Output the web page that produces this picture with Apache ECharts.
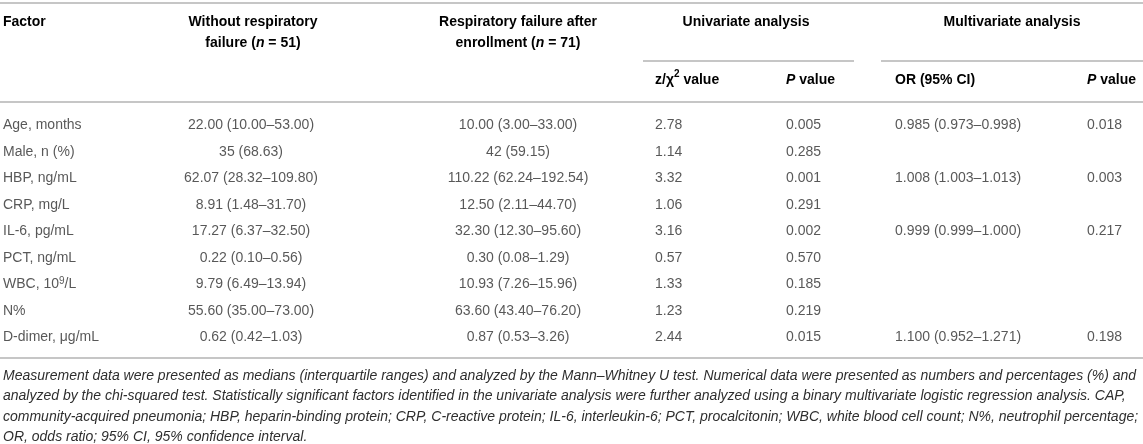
<!DOCTYPE html>
<html>
<head>
<meta charset="utf-8">
<script src="https://cdn.jsdelivr.net/npm/echarts@6/dist/echarts.min.js"></script>
<style>
html,body{margin:0;padding:0;background:#fff;}
#chart{width:1143px;height:444px;}
</style>
</head>
<body>
<div id="chart"></div>
<script>
// ---- data ----
const factors = ['Age, months', 'Male, n (%)', 'HBP, ng/mL', 'CRP, mg/L', 'IL-6, pg/mL', 'PCT, ng/mL', 'WBC, 10{sup|9}/L', 'N%', 'D-dimer, μg/mL'];
const withoutRF = ['22.00 (10.00–53.00)', '35 (68.63)', '62.07 (28.32–109.80)', '8.91 (1.48–31.70)', '17.27 (6.37–32.50)', '0.22 (0.10–0.56)', '9.79 (6.49–13.94)', '55.60 (35.00–73.00)', '0.62 (0.42–1.03)'];
const withRF = ['10.00 (3.00–33.00)', '42 (59.15)', '110.22 (62.24–192.54)', '12.50 (2.11–44.70)', '32.30 (12.30–95.60)', '0.30 (0.08–1.29)', '10.93 (7.26–15.96)', '63.60 (43.40–76.20)', '0.87 (0.53–3.26)'];
const zValues = ['2.78', '1.14', '3.32', '1.06', '3.16', '0.57', '1.33', '1.23', '2.44'];
const uniP = ['0.005', '0.285', '0.001', '0.291', '0.002', '0.570', '0.185', '0.219', '0.015'];
const orCI = ['0.985 (0.973–0.998)', '', '1.008 (1.003–1.013)', '', '0.999 (0.999–1.000)', '', '', '', '1.100 (0.952–1.271)'];
const multiP = ['0.018', '', '0.003', '', '0.217', '', '', '', '0.198'];

const headerTop = ['{b|Factor}', '{b|Without respiratory}\n{b|failure (}{bi|n}{b| = 51)}', '{b|Respiratory failure after}\n{b|enrollment (}{bi|n}{b| = 71)}', '{b|Univariate analysis}', '{b|Multivariate analysis}'];
const headerSub = ['{b|z/χ}{bsup|2}{b| value}', '{bi|P}{b| value}', '{b|OR (95% CI)}', '{bi|P}{b| value}'];
const footnoteLines = [
  'Measurement data were presented as medians (interquartile ranges) and analyzed by the Mann–Whitney U test. Numerical data were presented as numbers and percentages (%) and',
  'analyzed by the chi-squared test. Statistically significant factors identified in the univariate analysis were further analyzed using a binary multivariate logistic regression analysis. CAP,',
  'community-acquired pneumonia; HBP, heparin-binding protein; CRP, C-reactive protein; IL-6, interleukin-6; PCT, procalcitonin; WBC, white blood cell count; N%, neutrophil percentage;',
  'OR, odds ratio; 95% CI, 95% confidence interval.'
];

// ---- layout (positions / styles) ----
const W = 1143;
const FONT = '"Liberation Sans", Arial, Helvetica, sans-serif';
const TXT = '#2e2e2e';
const HEAD = '#1e1e1e';
const LINE = '#b3b3b3';
const colAnchors = [
  { x: 3, align: 'left' },
  { x: 251, align: 'center' },
  { x: 518, align: 'center' },
  { x: 655, align: 'left' },
  { x: 786, align: 'left' },
  { x: 895, align: 'left' },
  { x: 1087, align: 'left' }
];
const headerTopPos = [{ x: 3, align: 'left' }, { x: 253, align: 'center' }, { x: 518, align: 'center' }, { x: 746, align: 'center' }, { x: 1012, align: 'center' }];
const headerSubX = [655, 786, 895, 1087];
const rowTop = 112, rowH = 26.5;

const rich = {
  b: { fontFamily: FONT, fontSize: 14, fontWeight: 'bold', color: HEAD, lineHeight: 21 },
  bi: { fontFamily: FONT, fontSize: 14, fontWeight: 'bold', fontStyle: 'italic', color: HEAD, lineHeight: 21 },
  bsup: { fontFamily: FONT, fontSize: 10, fontWeight: 'bold', color: HEAD, lineHeight: 21, verticalAlign: 'top' }
};

const columns = [factors, withoutRF, withRF, zValues, uniP, orCI, multiP];
const series = columns.map((col, ci) => ({
  type: 'scatter',
  symbolSize: 0,
  silent: true,
  data: col.map((t, ri) => ({ value: [colAnchors[ci].x, ri], text: t })),
  label: {
    show: true,
    position: 'inside',
    align: colAnchors[ci].align,
    verticalAlign: 'middle',
    fontFamily: FONT,
    fontSize: 14,
    color: TXT,
    lineHeight: 16,
    formatter: p => p.data.text,
    rich: { sup: { fontFamily: FONT, fontSize: 10, color: TXT, lineHeight: 16, verticalAlign: 'top', padding: [0, 0, 5, 0] } }
  }
}));

const graphic = [];
function hline(y, x1, x2) {
  graphic.push({ type: 'line', silent: true, shape: { x1: x1, y1: y, x2: x2, y2: y }, style: { stroke: LINE, lineWidth: 1.5 } });
}
hline(3, 0, W);
hline(61, 643, 854);
hline(61, 881, W);
hline(102, 0, W);
hline(358, 0, W);

headerTop.forEach((t, i) => {
  graphic.push({ type: 'text', silent: true, x: headerTopPos[i].x, y: 11.5, style: { text: t, rich: rich, align: headerTopPos[i].align, verticalAlign: 'top' } });
});
headerSub.forEach((t, i) => {
  graphic.push({ type: 'text', silent: true, x: headerSubX[i], y: 69.5, style: { text: t, rich: rich, align: 'left', verticalAlign: 'top' } });
});
graphic.push({
  type: 'text', silent: true, x: 3, y: 365.5,
  style: { text: footnoteLines.join('\n'), fontFamily: FONT, fontSize: 14, fontStyle: 'italic', fill: TXT, lineHeight: 20.5, align: 'left', verticalAlign: 'top' }
});

const chart = echarts.init(document.getElementById('chart'), null, { renderer: 'canvas' });
chart.setOption({
  animation: false,
  backgroundColor: '#fff',
  grid: { left: 0, right: 0, top: rowTop, height: rowH * factors.length },
  xAxis: { type: 'value', min: 0, max: W, show: false },
  yAxis: { type: 'category', inverse: true, data: factors.map((f, i) => String(i)), show: false, boundaryGap: true },
  series: series,
  graphic: graphic
});
</script>
</body>
</html>
